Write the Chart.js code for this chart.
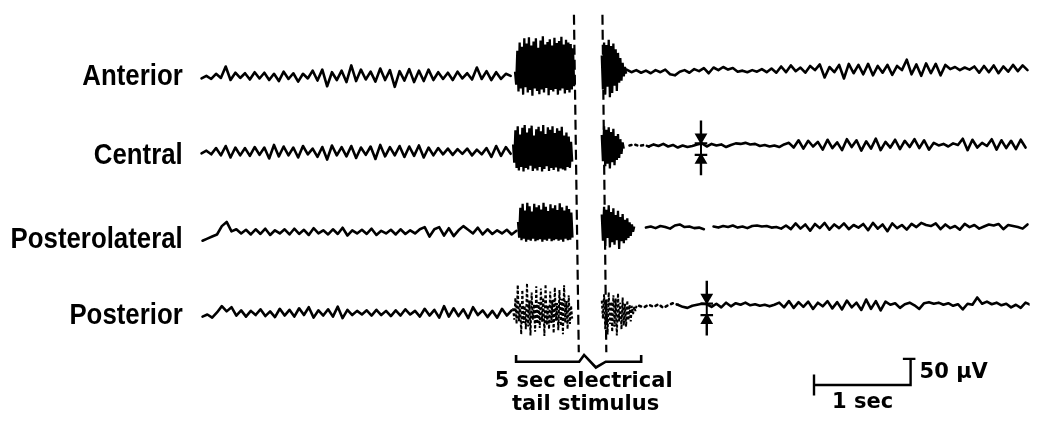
<!DOCTYPE html>
<html>
<head>
<meta charset="utf-8">
<script src="https://cdn.jsdelivr.net/npm/chart.js@4.4.1/dist/chart.umd.min.js"></script>
<style>
html,body{margin:0;padding:0;background:#fff;}
canvas{display:block;}
</style>
</head>
<body>
<canvas id="c" width="1037" height="430"></canvas>
<script>
// ---------- DATA (time in s, amplitude in µV) ----------
const channels = ['Anterior', 'Central', 'Posterolateral', 'Posterior'];
const preBase  = [663, 518.5, 364.8, 209.3];   // trace offset before stimulus
const postBase = [674, 531.5, 374, 224];       // trace offset after stimulus
const sampleDt = 0.05;
const burstDt = 0.012;
const preStart = [0.02, 0.02, 0.03, 0.03];
const burstOnStart = [3.265, 3.245, 3.296, 3.245];
const burstOffStart = [4.163, 4.163, 4.163, 4.163];
const postStart = [4.42, 4.45, 4.62, 4.55];

const anteriorPre = [-3,2,-4,6,-2,20,-6,8,-2,7,-5,9,-3,8,-6,6,-8,10,-4,7,-9,6,-3,12,-7,14,-18,9,-6,12,-10,22,-8,14,-5,10,-9,16,-6,13,-19,11,-7,15,-10,12,-8,14,-6,9,-4,8,-6,10,-3,7,-5,18,-4,11,-6,9,-4,6,2];
const anteriorBurstOn = [10,-15,50,-28,66,-22,58,-34,74,-20,64,-30,76,-25,60,-36,68,-22,74,-27,56,-33,70,-24,78,-30,62,-21,67,-35,72,-25,60,-28,75,-23,65,-34,69,-26,77,-22,62,-32,71,-25,66,-30,63,-24,55,-18];
const anteriorBurstOff = [30,-35,55,-45,50,-30,60,-50,48,-42,53,-28,42,-38,35,-22,25,-18,16,-10,8,-5];
const anteriorPost = [3,-2,2,-3,1,-4,2,-2,3,-6,-8,-1,2,-3,4,0,6,-4,7,2,8,3,6,-1,1,-2,2,-1,4,-2,5,-3,9,-2,11,0,7,-3,10,2,13,-12,8,-2,12,-14,14,-4,12,-6,14,-8,10,-3,12,-7,10,2,22,-6,13,-9,15,-4,14,-8,12,4,8,2,7,3,9,-3,10,-2,11,-4,9,-1,12,0,11,2];

const centralPre = [-2,3,-4,8,-6,12,-10,9,-6,8,-7,10,-5,9,-12,14,-8,11,-6,9,-10,12,-4,7,-9,10,-14,13,-6,10,-8,12,-11,9,-5,11,-13,14,-8,10,-6,12,-9,11,-7,13,-10,9,-6,8,-4,7,-5,6,-3,7,-6,5,-4,8,-9,12,-7,10,-3];
const centralBurstOn = [15,-20,42,-30,50,-35,34,-28,47,-37,52,-30,38,-33,46,-26,51,-36,32,-31,44,-35,49,-28,40,-37,52,-32,35,-27,48,-36,43,-30,50,-34,37,-29,46,-37,41,-31,49,-33,32,-35,38,-28,30,-30,20,-18];
const centralBurstOff = [20,-30,37,-40,30,-35,35,-44,26,-32,32,-38,18,-28,22,-24,12,-16,6,-6];
const centralPost = [0,2,-1,1,-2,2,-1,3,-2,1,-4,0,-3,-1,2,4,-2,3,0,2,-3,1,4,3,5,2,3,-1,1,-2,0,-3,2,5,-4,10,-6,9,-2,7,-8,11,-5,6,-9,12,-3,10,-10,8,-6,13,-9,7,-4,11,-7,9,-3,12,-5,10,-8,5,0,3,-2,4,1,13,-9,11,-4,5,-1,12,-8,10,-5,9,-7,11,-4];

const posterolateralPre = [-16,-12,-8,-4,12,20,2,6,-2,5,-4,6,-3,7,-5,4,-2,6,-4,7,-3,5,-5,8,-2,4,-4,6,-3,9,-6,4,-2,5,-3,7,-5,3,-2,5,-4,6,-3,4,-2,6,10,-8,6,10,-6,8,-7,4,12,5,-2,9,-4,6,-3,4,-2,5,-4,3];
const posterolateralBurstOn = [20,-10,47,-15,55,-12,42,-18,57,-14,50,-16,40,-12,55,-17,48,-15,52,-13,44,-18,57,-14,49,-16,41,-12,54,-17,46,-15,52,-13,43,-16,56,-14,48,-18,42,-12,51,-15,45,-14,38,-10];
const posterolateralBurstOff = [25,-25,40,-35,34,-20,43,-38,30,-28,37,-33,24,-24,32,-41,20,-26,26,-30,15,-24,18,-20,10,-16,6,-8,2];
const posterolateralPost = [0,2,-1,3,1,-2,4,6,1,2,-1,0,-3,null,2,0,3,1,4,0,2,-1,3,4,2,3,0,1,-2,4,-3,8,-2,6,-6,7,-1,9,-4,6,-1,8,-3,5,0,7,-5,9,-2,6,-7,8,-1,5,-4,7,1,9,5,3,8,-3,6,-1,3,-4,7,1,5,-2,2,6,4,7,-3,5,3,1,-2,6];

const posteriorPre = [-6,-2,-8,2,14,4,12,-4,6,-6,5,-3,8,-5,4,-7,9,-4,7,-6,10,-3,12,-8,6,-4,8,-6,13,-9,7,-3,5,-2,6,-4,7,-3,5,-5,6,-4,8,-2,5,-6,9,-4,7,-8,14,-6,10,-5,8,-9,12,-3,6,-7,5,-8,9,-4,6];
const posteriorBurstOn = [10,-12,30,-20,55,-15,20,-40,45,-18,15,-30,58,-25,25,-42,40,-12,18,-35,52,-20,22,-28,48,-16,30,-43,56,-22,16,-30,42,-18,26,-38,50,-14,20,-32,45,-24,28,-40,54,-18,24,-30,35,-20,15,-10];
const posteriorBurstOff = [10,-25,22,-45,12,-55,26,-35,8,-50,20,-40,14,-57,24,-30,6,-45,16,-38,4,-40,10,-28,2,-30,0,-16,-2,-10,0];
const posteriorPost = [0,-3,2,-2,3,-4,1,5,2,-2,-4,0,2,4,3,-2,4,-3,6,-1,5,2,6,1,3,0,2,-1,2,6,-3,9,-4,7,-2,8,-6,6,-1,9,-5,7,-7,10,-3,6,-8,12,-6,9,-9,8,2,5,-4,3,6,1,-6,5,7,4,6,2,5,0,3,-7,4,2,16,4,8,3,6,1,4,-3,2,-4,6,2];

const preSeries   = [anteriorPre, centralPre, posterolateralPre, posteriorPre];
const burstOnSeries  = [anteriorBurstOn, centralBurstOn, posterolateralBurstOn, posteriorBurstOn];
const burstOffSeries = [anteriorBurstOff, centralBurstOff, posterolateralBurstOff, posteriorBurstOff];
const postSeries  = [anteriorPost, centralPost, posterolateralPost, posteriorPost];
const dottedStartSegments = [0, 4, 0, 8];

// stimulus markers (dashed lines) and bracket
const stimLineTop = [3.875, 4.17];
const stimLineBottom = [3.925, 4.21];
const stimLineSpan = [782, 135];
const bracketTimes = [3.276, 4.571];
const bracketLevel = 116.7;
const bracketBreakTimes = [3.929, 3.980, 4.102, 4.204];
const bracketBreakOffsets = [0, 13, -11, 0];
// arrow events (channel index, time)
const arrowChannels = [1, 3];
const arrowTimes = [5.19, 5.25];
// calibration
const scaleBarStart = 6.36;
const scaleBarSec = 1;
const scaleBarMicroV = 50;
const scaleBarLevel = 72.2;

// ---------- build datasets ----------
function series(t0, dt, base, vals) {
  return vals.map((v, i) => ({x: t0 + dt * i, y: v === null ? null : base + v}));
}
const ink = '#000';
const datasets = [];
for (let c = 0; c < 4; c++) {
  datasets.push({data: series(preStart[c], sampleDt, preBase[c], preSeries[c]),
    borderColor: ink, borderWidth: 2.6, borderJoinStyle: 'round', borderCapStyle: 'round'});
  const dashedBurst = c === 3;
  datasets.push({data: series(burstOnStart[c], burstDt, preBase[c], burstOnSeries[c]),
    borderColor: ink, borderWidth: dashedBurst ? 2 : 2.3, borderJoinStyle: 'bevel',
    borderDash: dashedBurst ? [3, 2] : []});
  datasets.push({data: series(burstOffStart[c], burstDt, postBase[c], burstOffSeries[c]),
    borderColor: ink, borderWidth: dashedBurst ? 2 : 2.3, borderJoinStyle: 'bevel',
    borderDash: dashedBurst ? [3, 2] : []});
  const nd = dottedStartSegments[c];
  datasets.push({data: series(postStart[c], sampleDt, postBase[c], postSeries[c]),
    borderColor: ink, borderWidth: 2.6, borderJoinStyle: 'round', borderCapStyle: 'round',
    segment: {borderDash: ctx => ctx.p0DataIndex < nd ? [2, 4] : undefined}});
}
// dashed stimulus lines
for (let k = 0; k < 2; k++) {
  datasets.push({data: [{x: stimLineTop[k], y: stimLineSpan[0]}, {x: stimLineBottom[k], y: stimLineSpan[1]}],
    borderColor: ink, borderWidth: 2.2, borderDash: [10, 5]});
}
// bracket
const bracketTick = 13;
const bracketPts = [{x: bracketTimes[0], y: bracketLevel + bracketTick}, {x: bracketTimes[0], y: bracketLevel}];
bracketBreakTimes.forEach((t, i) => bracketPts.push({x: t, y: bracketLevel + bracketBreakOffsets[i]}));
bracketPts.push({x: bracketTimes[1], y: bracketLevel}, {x: bracketTimes[1], y: bracketLevel + bracketTick});
datasets.push({data: bracketPts, borderColor: ink, borderWidth: 2.6, borderJoinStyle: 'miter'});
// arrows
arrowChannels.forEach((ch, k) => {
  const t = arrowTimes[k], b = postBase[ch];
  datasets.push({data: [{x: t, y: b + 48}, {x: t, y: b + 16}], borderColor: ink, borderWidth: 2.4,
    pointStyle: 'triangle', pointRadius: [0, 5], pointRotation: 180, pointBackgroundColor: ink, pointBorderColor: ink});
  datasets.push({data: [{x: t, y: b - 57}, {x: t, y: b - 28}], borderColor: ink, borderWidth: 2.4,
    pointStyle: 'triangle', pointRadius: [0, 5], pointRotation: 0, pointBackgroundColor: ink, pointBorderColor: ink});
  datasets.push({data: [{x: t, y: b + 16}, {x: t, y: b - 28}], borderColor: ink, borderWidth: 2});
  datasets.push({data: [{x: t - 0.065, y: b + 4}, {x: t + 0.065, y: b + 4}], borderColor: ink, borderWidth: 2.2});
  datasets.push({data: [{x: t - 0.065, y: b - 18}, {x: t + 0.065, y: b - 18}], borderColor: ink, borderWidth: 2.2});
});
// calibration bar
datasets.push({data: [
  {x: scaleBarStart, y: scaleBarLevel + 20}, {x: scaleBarStart, y: scaleBarLevel - 20},
  {x: scaleBarStart, y: scaleBarLevel}, {x: scaleBarStart + scaleBarSec, y: scaleBarLevel},
  {x: scaleBarStart + scaleBarSec, y: scaleBarLevel + scaleBarMicroV}
], borderColor: ink, borderWidth: 2.4, borderJoinStyle: 'miter'});
datasets.push({data: [{x: scaleBarStart + scaleBarSec - 0.08, y: scaleBarLevel + scaleBarMicroV},
  {x: scaleBarStart + scaleBarSec + 0.05, y: scaleBarLevel + scaleBarMicroV}], borderColor: ink, borderWidth: 2.4});

datasets.forEach(d => { d.pointRadius = d.pointRadius || 0; d.fill = false; d.tension = 0; d.spanGaps = false; });

// ---------- text plugin ----------
const labelOffsetPx = [8, 12, 16, 11];
const textPlugin = {
  id: 'texts',
  afterDatasetsDraw(chart) {
    const ctx = chart.ctx, xs = chart.scales.x, ys = chart.scales.y;
    ctx.save();
    ctx.fillStyle = ink;
    ctx.textBaseline = 'alphabetic';
    ctx.font = 'bold 29px "Liberation Sans", Arial, sans-serif';
    ctx.textAlign = 'right';
    const lx = xs.getPixelForValue(-0.175);
    channels.forEach((name, c) => {
      const y = ys.getPixelForValue(preBase[c]) + labelOffsetPx[c];
      ctx.save();
      ctx.translate(lx, y);
      ctx.scale(0.89, 1);
      ctx.fillText(name, 0, 0);
      ctx.restore();
    });
    ctx.font = 'bold 21px "DejaVu Sans", sans-serif';
    ctx.textAlign = 'center';
    const cx = xs.getPixelForValue((bracketTimes[0] + bracketTimes[1]) / 2);
    ctx.fillText('5 sec electrical', cx + 5, ys.getPixelForValue(bracketLevel) + 25);
    ctx.fillText('tail stimulus', cx + 7, ys.getPixelForValue(bracketLevel) + 48);
    ctx.textAlign = 'left';
    ctx.fillText('1 sec', xs.getPixelForValue(scaleBarStart) + 18, ys.getPixelForValue(scaleBarLevel) + 23);
    ctx.font = 'bold 21px "DejaVu Sans", sans-serif';
    ctx.fillText('50 µV', xs.getPixelForValue(scaleBarStart + scaleBarSec) + 9,
      ys.getPixelForValue(scaleBarLevel + scaleBarMicroV) + 19);
    ctx.restore();
  }
};

new Chart(document.getElementById('c'), {
  type: 'line',
  data: {datasets},
  options: {
    responsive: false,
    animation: false,
    events: [],
    layout: {padding: 0},
    plugins: {legend: {display: false}, tooltip: {enabled: false}, title: {display: false}},
    scales: {
      x: {type: 'linear', display: false, min: -195 / 98, max: (1037 - 195) / 98},
      y: {type: 'linear', display: false, min: 0, max: 430 / 0.54}
    }
  },
  plugins: [textPlugin]
});
</script>
</body>
</html>
